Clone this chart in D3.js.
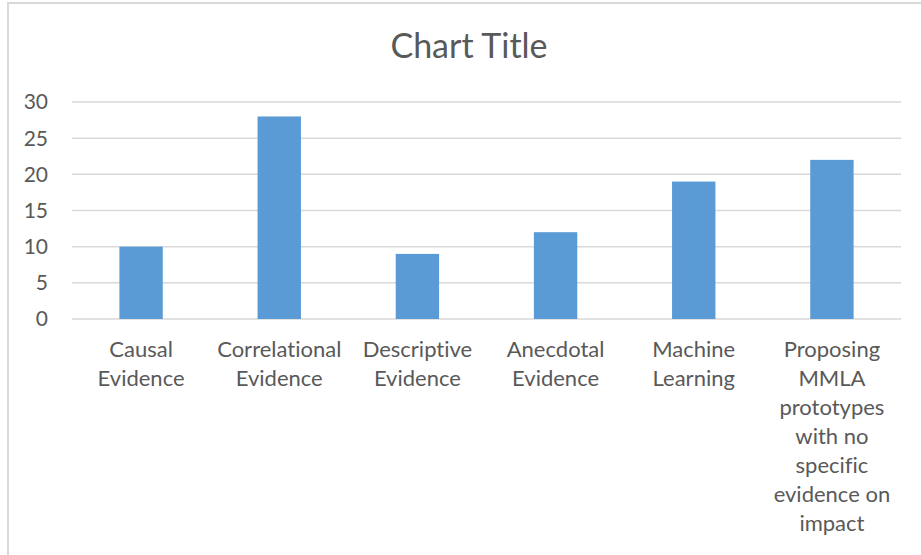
<!DOCTYPE html>
<html>
<head>
<meta charset="utf-8">
<script src="https://cdn.jsdelivr.net/npm/d3@7"></script>
<style>
  body { margin: 0; background: #fff; }
  text { font-family: Lato, "Open Sans", sans-serif; fill: #595959; font-variant-ligatures: none; }
</style>
</head>
<body>
<svg id="chart"></svg>
<script>
// data
const categories = [
    ["Causal", "Evidence"],
    ["Correlational", "Evidence"],
    ["Descriptive", "Evidence"],
    ["Anecdotal", "Evidence"],
    ["Machine", "Learning"],
    ["Proposing", "MMLA", "prototypes", "with no", "specific", "evidence on", "impact"]
];
const values = [10, 28, 9, 12, 19, 22];
const yTicks = [0, 5, 10, 15, 20, 25, 30];
const title = "Chart Title";

const width = 921, height = 555;
const plot = { left: 72, right: 901, top: 102, bottom: 319 };

const svg = d3.select("#chart")
    .attr("width", width)
    .attr("height", height);

// chart area border
svg.append("path")
    .attr("d", `M8,${height} L8,3 L${width},3`)
    .attr("fill", "none")
    .attr("stroke", "#d9d9d9")
    .attr("stroke-width", 2);

const x = d3.scaleBand()
    .domain(d3.range(values.length))
    .range([plot.left, plot.right])
    .paddingInner(0.686)
    .paddingOuter(0.343);

const y = d3.scaleLinear()
    .domain([0, 30])
    .range([plot.bottom, plot.top]);

// gridlines
svg.append("g")
    .selectAll("line")
    .data(yTicks)
    .join("line")
    .attr("x1", plot.left)
    .attr("x2", plot.right)
    .attr("y1", d => y(d))
    .attr("y2", d => y(d))
    .attr("stroke", "#d9d9d9")
    .attr("stroke-width", 1.5);

// y tick labels
svg.append("g")
    .selectAll("text")
    .data(yTicks)
    .join("text")
    .attr("x", 48)
    .attr("y", d => y(d))
    .attr("dy", "0.35em")
    .attr("text-anchor", "end")
    .attr("font-size", 21)
    .text(d => d);

// bars
svg.append("g")
    .selectAll("rect")
    .data(values)
    .join("rect")
    .attr("x", (d, i) => x(i))
    .attr("width", x.bandwidth())
    .attr("y", d => y(d))
    .attr("height", d => y(0) - y(d))
    .attr("fill", "#5b9bd5");

// category labels
const catCenter = i => plot.left + (plot.right - plot.left) / values.length * (i + 0.5);
svg.append("g")
    .selectAll("text")
    .data(categories)
    .join("text")
    .attr("text-anchor", "middle")
    .attr("font-size", 22)
    .each(function (lines, i) {
        d3.select(this).selectAll("tspan")
            .data(lines)
            .join("tspan")
            .attr("x", catCenter(i))
            .attr("y", (d, j) => 357 + j * 29)
            .text(d => d);
    });

// title
svg.append("text")
    .attr("x", 469)
    .attr("y", 58)
    .attr("text-anchor", "middle")
    .attr("font-size", 34)
    .text(title);
</script>
</body>
</html>
